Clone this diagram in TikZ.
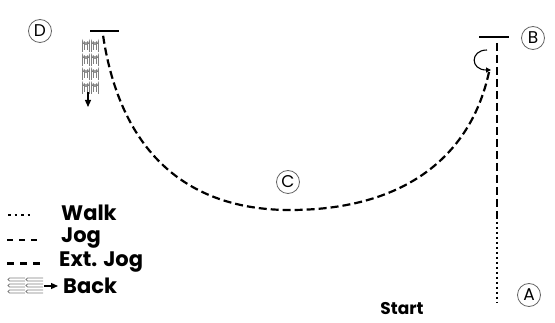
\documentclass[tikz,border=0pt]{standalone}
\usepackage{fontspec}
\setmainfont{Poppins}
\usetikzlibrary{arrows.meta}
\tikzset{
  lbl/.style={circle,draw=black!60,line width=0.8pt,minimum size=23pt,inner sep=0pt,font=\fontsize{17}{17}\selectfont},
  legtext/.style={anchor=west,inner sep=0pt,font=\bfseries\fontsize{21}{21}\selectfont},
  jogline/.style={line width=2.2pt,dash pattern=on 8pt off 4pt},
  walkline/.style={line width=2.2pt,dash pattern=on 2.5pt off 2.5pt},
  ruleline/.style={line width=1.3pt},
  loopline/.style={line width=0.8pt,black!50},
}
\begin{document}
\begin{tikzpicture}[x=1pt,y=-1pt]
\useasboundingbox (0,0) rectangle (555,323);
% circled labels
\node[lbl] (D) at (40,31) {D};
\node[lbl] (B) at (533,38) {B};
\node[lbl] (C) at (288,182) {C};
\node[lbl] (A) at (529,295) {A};
\node[inner sep=0pt,font=\bfseries\fontsize{17}{17}\selectfont] (start) at (402,309) {Start};
% end marks
\coordinate (d1) at (90,31); \coordinate (d2) at (119,31);
\draw[ruleline] (d1) -- (d2);
\coordinate (b1) at (479,37); \coordinate (b2) at (509,37);
\draw[ruleline] (b1) -- (b2);
% vertical line from A up to B
\coordinate (v0) at (497,43); \coordinate (v1) at (497,217); \coordinate (v2) at (497,303);
\draw[jogline] (v0) -- (v1);
\draw[walkline] (v1) -- (v2);
% curl near B
\coordinate (k0) at (487,50); \coordinate (k1) at (491,70);
\draw[line width=1.1pt,-{Triangle[length=5pt,width=5pt]}] (k0) .. controls (470,50) and (470,70) .. (k1);
% big curve B -> C -> D
\coordinate (e0) at (489,72); \coordinate (e1) at (290,210); \coordinate (e2) at (103,35);
\draw[jogline] (e0) .. controls (470,160) and (400,210) .. (e1) .. controls (185,210) and (120,150) .. (e2);
% back loops near D
\foreach \cx in {86,95}{
  \foreach \yy in {37,51,65,79}{
    \draw[loopline] (\cx-3.5,\yy+15) -- (\cx-3.5,\yy+4) arc[start angle=180,end angle=0,radius=3.5] -- (\cx+3.5,\yy+15);
    \draw[loopline] (\cx-1.5,\yy+13) -- (\cx-1.5,\yy+5) arc[start angle=180,end angle=0,radius=1.5] -- (\cx+1.5,\yy+13);
  }
}
\coordinate (ba0) at (88,92); \coordinate (ba1) at (88,107);
\draw[line width=1.2pt,-{Triangle[length=7pt,width=6pt]}] (ba0) -- (ba1);
% legend
\coordinate (w0) at (8,215); \coordinate (w1) at (33,215);
\draw[line width=2.4pt,dash pattern=on 2.5pt off 4pt] (w0) -- (w1);
\node[legtext] (walk) at (61,213) {Walk};
\coordinate (j0) at (7,240); \coordinate (j1) at (41,240);
\draw[line width=1.2pt,dash pattern=on 6pt off 6pt] (j0) -- (j1);
\node[legtext] (jog) at (61,238) {Jog};
\coordinate (x0) at (7,264); \coordinate (x1) at (44,264);
\draw[line width=3pt,dash pattern=on 7pt off 6pt] (x0) -- (x1);
\node[legtext] (ext) at (59,262) {Ext. Jog};
\foreach \yy in {279.5,285.5,291.5}{
  \foreach \xx in {8,26}{
    \draw[loopline] (\xx+17,\yy-1.5) -- (\xx+1.5,\yy-1.5) .. controls (\xx-0.5,\yy-1.5) and (\xx-0.5,\yy+1.5) .. (\xx+1.5,\yy+1.5) -- (\xx+17,\yy+1.5);
  }
}
\coordinate (bk0) at (44,286); \coordinate (bk1) at (58,286);
\draw[line width=1.2pt,-{Triangle[length=7pt,width=6pt]}] (bk0) -- (bk1);
\node[legtext] (back) at (63,286) {Back};
\end{tikzpicture}
\end{document}
